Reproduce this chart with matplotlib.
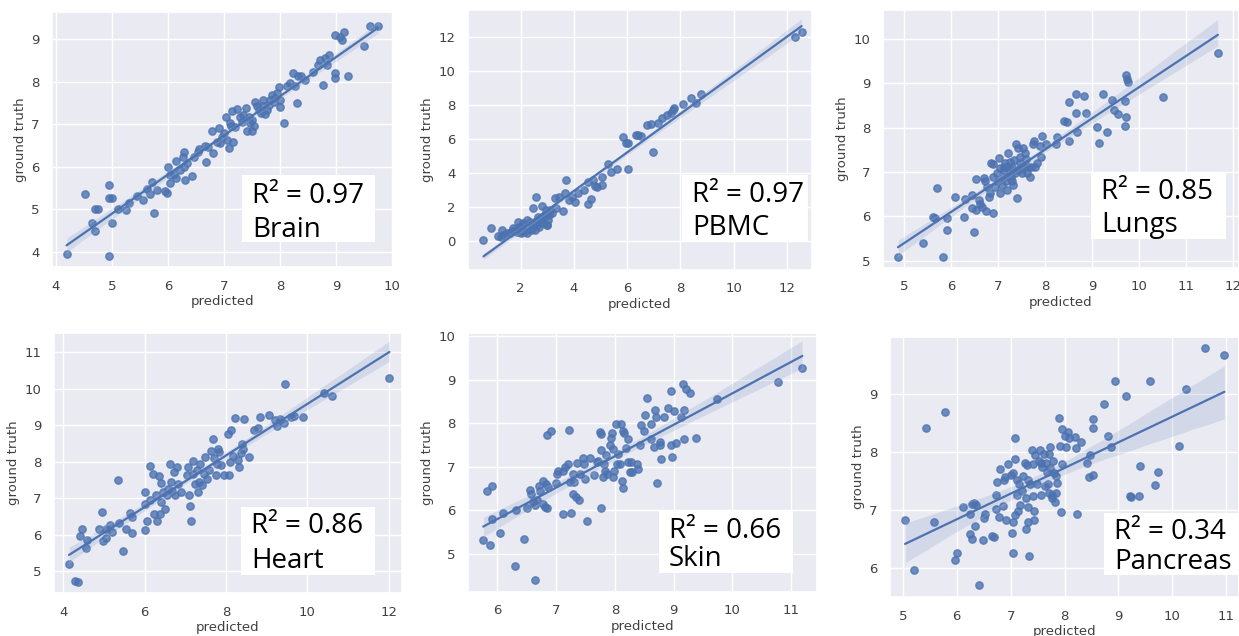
import numpy as np
import matplotlib
matplotlib.use("Agg")
import matplotlib.pyplot as plt
from matplotlib.patches import Rectangle
import seaborn as sns

# ---- data (predicted, ground truth) ----
brain_x = [4.19, 4.94, 4.52, 4.64, 4.70, 4.69, 4.76, 4.94, 4.94, 5.01, 5.00, 5.11, 5.25, 5.31,
           5.55, 5.62, 5.68, 5.72, 5.76, 5.95, 5.98, 6.00, 6.04, 6.04, 6.15, 6.15, 6.27, 6.29,
           6.29, 6.31, 6.43, 6.22, 6.54, 6.56, 6.68, 6.66, 6.81, 6.78, 6.91, 6.93, 7.01, 7.03,
           7.05, 7.09, 7.13, 7.15, 7.17, 7.23, 7.28, 7.32, 7.40, 7.41, 7.50, 7.51, 7.53, 7.56,
           7.62, 7.69, 7.74, 7.77, 7.83, 7.86, 7.92, 7.98, 8.00, 8.01, 8.08, 8.24, 8.30, 8.33,
           8.38, 8.27, 8.45, 8.60, 8.68, 8.71, 8.77, 8.81, 8.84, 8.87, 8.98, 8.99, 8.98, 9.07,
           9.11, 9.14, 9.21, 9.51, 9.61, 9.76, 7.20, 7.11, 7.44, 7.59, 7.66, 7.80, 7.89, 7.95,
           7.69, 7.47, 7.35, 6.96, 6.87, 6.72, 6.46, 6.34, 6.10, 5.80, 5.44, 8.12, 8.18]
brain_y = [3.94, 3.91, 5.35, 4.67, 4.49, 5.00, 5.00, 5.57, 5.26, 5.27, 4.67, 5.01, 4.97, 5.14,
           5.22, 5.47, 5.36, 5.65, 4.92, 5.43, 5.37, 6.00, 5.61, 5.81, 6.13, 5.73, 6.24, 6.35,
           6.00, 5.69, 5.77, 5.92, 6.35, 6.41, 6.12, 6.49, 6.33, 6.84, 6.90, 6.55, 6.79, 7.16,
           6.63, 6.45, 6.96, 7.31, 6.59, 7.36, 7.18, 7.06, 7.38, 6.83, 6.83, 7.10, 6.96, 7.53,
           7.34, 7.56, 7.23, 7.34, 7.57, 7.69, 7.61, 7.87, 7.57, 7.41, 7.04, 8.20, 7.49, 8.14,
           8.14, 7.89, 8.04, 8.24, 8.40, 8.51, 7.92, 8.55, 8.40, 8.63, 8.08, 8.20, 9.10, 9.06,
           8.97, 9.18, 8.14, 8.85, 9.32, 9.32, 6.94, 7.02, 7.18, 7.42, 7.26, 7.45, 7.53, 7.73,
           7.43, 7.02, 7.22, 6.71, 6.59, 6.47, 6.24, 6.08, 5.84, 5.45, 5.30, 7.89, 7.96]

pbmc_x = [0.60, 0.88, 1.14, 1.29, 1.26, 1.47, 1.66, 1.72, 1.85, 1.91, 1.95, 2.01, 2.10, 2.16,
          2.23, 2.29, 2.41, 2.48, 2.51, 2.58, 2.63, 2.70, 2.79, 2.79, 2.88, 2.91, 2.98, 3.00,
          2.94, 3.17, 3.29, 3.32, 3.45, 3.60, 3.67, 3.70, 3.83, 3.92, 4.04, 4.14, 4.39, 4.54,
          4.52, 4.63, 4.71, 4.79, 4.86, 5.06, 5.07, 5.30, 5.38, 5.61, 5.86, 5.96, 6.05, 6.04,
          6.34, 6.42, 6.51, 6.76, 6.89, 6.99, 7.18, 7.30, 7.49, 7.64, 7.71, 7.76, 8.12, 8.39,
          8.59, 8.77, 12.31, 12.56, 1.79, 1.97, 2.04, 2.35, 2.45, 2.60, 2.66, 2.73, 2.85, 3.04,
          3.10, 2.38, 2.08, 1.60, 1.35, 2.25, 2.54, 3.07]
pbmc_y = [0.04, 0.73, 0.28, 0.63, 0.24, 0.43, 0.57, 0.73, 0.49, 1.12, 0.83, 0.43, 1.02, 0.59,
          0.43, 0.83, 0.67, 1.91, 1.02, 2.60, 1.22, 0.83, 2.07, 1.32, 1.02, 1.51, 0.92, 0.92,
          1.81, 1.61, 2.50, 1.91, 2.60, 1.77, 2.79, 3.58, 2.40, 2.60, 2.30, 2.79, 2.99, 3.48,
          2.14, 2.46, 3.58, 3.23, 3.15, 3.29, 3.78, 4.52, 4.07, 4.23, 6.14, 5.74, 5.74, 4.23,
          6.24, 6.24, 6.20, 6.83, 6.89, 5.25, 6.93, 7.22, 7.42, 7.55, 7.71, 7.81, 8.07, 8.40,
          8.11, 8.66, 11.98, 12.30, 0.63, 0.63, 0.92, 1.12, 0.83, 0.92, 1.42, 1.12, 1.32, 1.22,
          1.81, 0.63, 0.53, 0.43, 0.33, 1.22, 0.63, 1.51]

lungs_x = [4.87, 5.41, 5.61, 5.66, 5.69, 5.82, 5.91, 5.92, 6.08, 6.28, 6.30, 6.44, 6.44, 6.49,
           6.52, 6.53, 6.60, 6.62, 6.65, 6.69, 6.72, 6.75, 6.76, 6.80, 6.83, 6.85, 6.89, 6.90,
           6.90, 6.94, 6.99, 7.01, 7.05, 7.08, 7.12, 7.13, 7.15, 7.17, 7.20, 7.22, 7.25, 7.26,
           7.30, 7.32, 7.34, 7.37, 7.39, 7.40, 7.42, 7.46, 7.47, 7.52, 7.54, 7.57, 7.60, 7.63,
           7.67, 7.70, 7.74, 7.77, 7.79, 7.82, 7.90, 7.92, 7.94, 8.02, 8.24, 8.26, 8.40, 8.46,
           8.51, 8.52, 8.67, 8.67, 8.68, 8.83, 8.88, 9.11, 9.15, 9.23, 9.31, 9.43, 9.47, 9.56,
           9.70, 9.70, 9.72, 9.73, 9.77, 9.75, 10.52, 11.68, 7.12, 7.19, 7.27, 7.33, 7.44, 7.49,
           7.05, 6.97, 7.30, 7.56, 7.62]
lungs_y = [5.08, 5.40, 5.98, 5.96, 6.64, 5.08, 5.96, 5.70, 6.43, 5.98, 6.39, 6.49, 6.19, 5.64,
           6.15, 6.84, 6.37, 6.28, 6.22, 6.86, 6.79, 6.13, 6.67, 6.45, 6.52, 7.20, 6.07, 7.18,
           6.88, 6.67, 6.79, 7.31, 6.52, 6.71, 6.90, 7.05, 7.20, 6.79, 6.60, 7.42, 6.98, 7.23,
           7.12, 6.71, 7.27, 6.97, 7.64, 6.41, 7.54, 7.20, 7.35, 6.97, 7.54, 7.42, 7.29, 7.12,
           6.90, 7.12, 7.64, 7.69, 7.12, 7.20, 7.58, 7.35, 7.82, 7.64, 7.64, 7.79, 8.14, 8.12,
           7.70, 8.57, 8.76, 8.33, 7.91, 8.72, 8.33, 8.01, 7.65, 8.75, 7.91, 8.63, 8.40, 8.31,
           8.59, 8.03, 8.25, 9.19, 9.02, 9.10, 8.69, 9.68, 7.12, 7.12, 6.90, 7.05, 7.05, 7.12,
           7.09, 6.97, 6.79, 7.12, 6.97]

heart_x = [4.14, 4.29, 4.35, 4.41, 4.45, 4.55, 4.59, 4.87, 4.96, 4.97, 5.06, 5.06, 5.15, 5.20,
           5.34, 5.36, 5.46, 5.54, 5.63, 5.69, 5.69, 6.00, 6.00, 6.02, 6.06, 6.13, 6.14, 6.21,
           6.24, 6.29, 6.31, 6.35, 6.38, 6.39, 6.41, 6.46, 6.49, 6.54, 6.58, 6.62, 6.64, 6.68,
           6.72, 6.74, 6.80, 6.82, 6.89, 7.03, 7.07, 7.09, 7.12, 7.15, 7.18, 7.20, 7.23, 7.28,
           7.30, 7.34, 7.36, 7.40, 7.45, 7.49, 7.53, 7.59, 7.63, 7.68, 7.71, 7.75, 7.79, 7.81,
           7.84, 7.89, 7.96, 8.08, 8.06, 8.12, 8.11, 8.18, 8.21, 8.29, 8.31, 8.36, 8.39, 8.42,
           8.44, 8.56, 8.68, 8.78, 8.84, 9.06, 9.21, 9.26, 9.32, 9.43, 9.46, 9.61, 9.67, 9.90,
           10.42, 10.60, 12.02]
heart_y = [5.21, 4.75, 4.71, 5.97, 6.15, 5.64, 5.87, 6.17, 6.62, 5.82, 5.92, 6.17, 6.26, 6.09,
           7.49, 6.33, 5.56, 6.17, 6.60, 6.49, 6.06, 6.12, 7.17, 6.85, 6.39, 7.88, 6.94, 7.67,
           6.58, 7.08, 6.38, 7.61, 6.58, 7.42, 6.90, 7.17, 6.71, 7.08, 7.26, 7.94, 7.44, 7.21,
           7.72, 7.08, 7.85, 7.40, 7.17, 7.63, 7.85, 7.08, 6.80, 6.39, 7.67, 8.02, 7.40, 7.78,
           7.17, 7.44, 7.94, 7.35, 7.67, 8.13, 7.53, 7.76, 8.29, 8.63, 8.10, 7.64, 7.94, 8.35,
           8.26, 7.90, 7.63, 7.63, 8.76, 8.87, 7.99, 8.17, 9.20, 8.04, 7.85, 8.24, 8.49, 8.35,
           9.16, 8.13, 8.86, 8.93, 9.22, 9.28, 9.13, 8.99, 9.18, 9.07, 10.13, 9.22, 9.24, 9.22,
           9.89, 9.79, 10.29]

skin_x = [5.76, 5.82, 5.88, 5.90, 5.91, 6.04, 6.09, 6.30, 6.32, 6.46, 6.51, 6.55, 6.57, 6.61,
          6.64, 6.64, 6.67, 6.71, 6.73, 6.77, 6.78, 6.81, 6.82, 6.84, 6.85, 6.86, 6.92, 7.00,
          7.01, 7.04, 7.11, 7.12, 7.15, 7.21, 7.22, 7.23, 7.26, 7.28, 7.29, 7.30, 7.33, 7.35,
          7.39, 7.40, 7.45, 7.47, 7.49, 7.52, 7.58, 7.64, 7.69, 7.72, 7.75, 7.76, 7.76, 7.77,
          7.79, 7.81, 7.83, 7.85, 7.87, 7.91, 7.93, 7.95, 7.96, 7.97, 7.99, 8.02, 8.03, 8.06,
          8.08, 8.10, 8.12, 8.13, 8.13, 8.16, 8.19, 8.22, 8.23, 8.25, 8.28, 8.29, 8.38, 8.40,
          8.43, 8.44, 8.50, 8.51, 8.55, 8.62, 8.61, 8.67, 8.68, 8.70, 8.71, 8.76, 8.77, 8.78,
          8.83, 8.90, 8.95, 8.95, 8.97, 9.01, 9.04, 9.13, 9.16, 9.17, 9.18, 9.21, 9.28, 9.38,
          9.73, 10.78, 11.19]
skin_y = [5.31, 6.43, 5.21, 6.55, 5.80, 5.48, 5.94, 4.71, 6.01, 5.34, 6.05, 6.47, 6.36, 6.19,
          4.39, 6.11, 6.23, 6.55, 6.45, 6.68, 6.15, 6.07, 6.59, 7.73, 6.05, 6.53, 7.82, 6.62,
          6.84, 6.89, 5.92, 6.91, 6.99, 7.07, 7.85, 6.65, 5.93, 6.84, 6.38, 6.65, 6.30, 7.08,
          6.23, 6.84, 7.20, 7.07, 6.72, 5.74, 7.20, 6.80, 7.11, 7.14, 7.79, 7.76, 7.39, 6.06,
          6.76, 7.07, 6.91, 7.26, 6.84, 7.49, 7.66, 7.77, 6.76, 7.41, 6.91, 7.97, 7.07, 7.28,
          7.07, 7.97, 6.68, 6.51, 7.83, 7.77, 7.43, 7.63, 7.11, 6.88, 7.11, 6.88, 7.07, 6.94,
          7.49, 7.95, 7.83, 8.18, 8.58, 7.99, 7.64, 7.45, 8.29, 8.14, 6.62, 7.57, 7.49, 7.18,
          8.14, 8.35, 8.74, 7.50, 7.22, 8.28, 7.54, 8.15, 8.89, 8.29, 7.64, 8.79, 8.69, 7.66,
          8.55, 8.94, 9.26]

pancreas_x = [5.04, 5.20, 5.43, 5.57, 5.79, 5.96, 6.00, 6.12, 6.24, 6.25, 6.28, 6.28, 6.32,
              6.33, 6.36, 6.41, 6.48, 6.51, 6.53, 6.66, 6.70, 6.73, 6.75, 6.72, 6.78, 6.81,
              6.86, 6.87, 6.89, 6.92, 6.95, 7.00, 7.03, 7.04, 7.05, 7.05, 7.08, 7.09, 7.09,
              7.11, 7.12, 7.13, 7.16, 7.18, 7.21, 7.23, 7.26, 7.28, 7.29, 7.31, 7.32, 7.33,
              7.33, 7.34, 7.36, 7.40, 7.41, 7.42, 7.43, 7.44, 7.46, 7.49, 7.52, 7.54, 7.56,
              7.57, 7.59, 7.62, 7.63, 7.65, 7.67, 7.69, 7.71, 7.72, 7.74, 7.74, 7.76, 7.77,
              7.79, 7.80, 7.82, 7.84, 7.85, 7.87, 7.90, 7.92, 7.94, 7.95, 7.96, 8.01, 8.02,
              8.06, 8.08, 8.19, 8.22, 8.24, 8.31, 8.41, 8.46, 8.47, 8.52, 8.53, 8.53, 8.73,
              8.80, 8.86, 8.94, 9.15, 9.22, 9.23, 9.39, 9.40, 9.59, 9.68, 9.73, 10.13, 10.25,
              10.60, 10.97]
pancreas_y = [6.82, 5.97, 8.41, 6.79, 8.68, 6.13, 6.25, 7.05, 6.93, 6.59, 6.50, 7.10, 7.12,
              6.72, 7.09, 5.70, 6.49, 6.86, 6.93, 6.55, 6.53, 7.02, 7.49, 7.26, 6.88, 7.71,
              7.06, 7.51, 7.57, 6.83, 7.80, 7.61, 6.60, 6.80, 6.26, 7.64, 7.87, 8.24, 6.92,
              7.51, 7.26, 6.98, 7.44, 7.09, 7.32, 7.58, 7.81, 7.21, 6.67, 7.78, 7.05, 7.52,
              6.80, 6.20, 7.44, 8.04, 7.79, 7.24, 6.82, 6.99, 7.95, 7.44, 7.84, 8.03, 7.26,
              7.81, 7.74, 7.97, 7.42, 7.81, 7.66, 7.45, 7.97, 7.30, 8.09, 7.72, 7.26, 7.21,
              7.84, 7.64, 7.13, 7.30, 7.58, 7.47, 8.59, 8.11, 6.96, 8.39, 7.80, 8.27, 8.08,
              8.34, 8.24, 8.25, 8.07, 6.93, 8.17, 7.81, 7.57, 7.94, 8.57, 8.41, 7.61, 8.82,
              8.28, 8.09, 9.22, 8.97, 7.24, 7.22, 7.24, 7.76, 9.22, 7.43, 7.66, 8.10, 9.09,
              9.79, 9.67]

tissues = ["Brain", "PBMC", "Lungs", "Heart", "Skin", "Pancreas"]
r2_labels = ["R² = 0.97", "R² = 0.97", "R² = 0.85", "R² = 0.86", "R² = 0.66", "R² = 0.34"]
xs = [brain_x, pbmc_x, lungs_x, heart_x, skin_x, pancreas_x]
ys = [brain_y, pbmc_y, lungs_y, heart_y, skin_y, pancreas_y]

# ---- layout (pixels) ----
W, H = 1239, 636
# left, top, right, bottom of each axes
axes_px = [(52, 12, 393, 267), (468, 10, 812, 270), (883, 10, 1239, 268),
           (54, 333, 402, 593), (468, 333, 817, 592), (890, 337, 1239, 597)]
xlims = [(3.93, 10.02), (0.02, 12.95), (4.55, 12.13), (3.77, 12.33), (5.5, 11.44), (4.76, 11.24)]
ylims = [(3.64, 9.64), (-1.73, 13.6), (4.84, 10.65), (4.41, 11.52), (4.12, 10.07), (5.5, 9.98)]
xticks = [range(4, 11), range(2, 13, 2), range(5, 13), range(4, 13, 2), range(6, 12), range(5, 12)]
yticks = [range(4, 10), range(0, 13, 2), range(5, 11), range(5, 12), range(5, 11), range(6, 10)]
# white label boxes: left, top, right, bottom, then baselines of the two lines
boxes = [(242, 175, 375, 242, 203, 237), (682, 175, 808, 242, 202, 235),
         (1091, 172, 1226, 239, 199, 232), (241, 507, 375, 575, 533, 568),
         (659, 510, 793, 573, 538, 566), (1104, 513, 1238, 575, 539, 569)]

sns.set_theme(style="darkgrid")
plt.rcParams["xtick.labelsize"] = 9.5
plt.rcParams["ytick.labelsize"] = 9.5
plt.rcParams["axes.labelsize"] = 9.5
plt.rcParams["xtick.color"] = ".25"
plt.rcParams["ytick.color"] = ".25"
plt.rcParams["axes.labelcolor"] = ".25"

fig = plt.figure(figsize=(W / 100, H / 100), dpi=100)
fig.patch.set_facecolor("white")

for i in range(6):
    l, t, r, b = axes_px[i]
    ax = fig.add_axes([l / W, 1 - b / H, (r - l) / W, (b - t) / H])
    sns.regplot(x=np.array(xs[i]), y=np.array(ys[i]), ax=ax, color="#4c72b0",
                scatter_kws={"s": 28}, line_kws={"linewidth": 1.6}, seed=3)
    ax.set_xlim(*xlims[i])
    ax.set_ylim(*ylims[i])
    ax.set_xticks(list(xticks[i]))
    ax.set_yticks(list(yticks[i]))
    ax.set_xlabel("predicted", labelpad=2)
    ax.set_ylabel("ground truth", labelpad=3)
    ax.tick_params(pad=3)

    x0, y0, x1, y1, b1, b2 = boxes[i]
    fig.add_artist(Rectangle((x0 / W, 1 - y1 / H), (x1 - x0) / W, (y1 - y0) / H,
                             transform=fig.transFigure, facecolor="white",
                             edgecolor="none", zorder=5))
    fig.text((x0 + 10) / W, 1 - b1 / H, r2_labels[i], fontsize=20, va="baseline",
             family=["Open Sans", "DejaVu Sans"], color="black", zorder=6)
    fig.text((x0 + 10) / W, 1 - b2 / H, tissues[i], fontsize=20, va="baseline",
             family=["Open Sans", "DejaVu Sans"], color="black", zorder=6)

fig.savefig("out.png", dpi=100, facecolor="white")
